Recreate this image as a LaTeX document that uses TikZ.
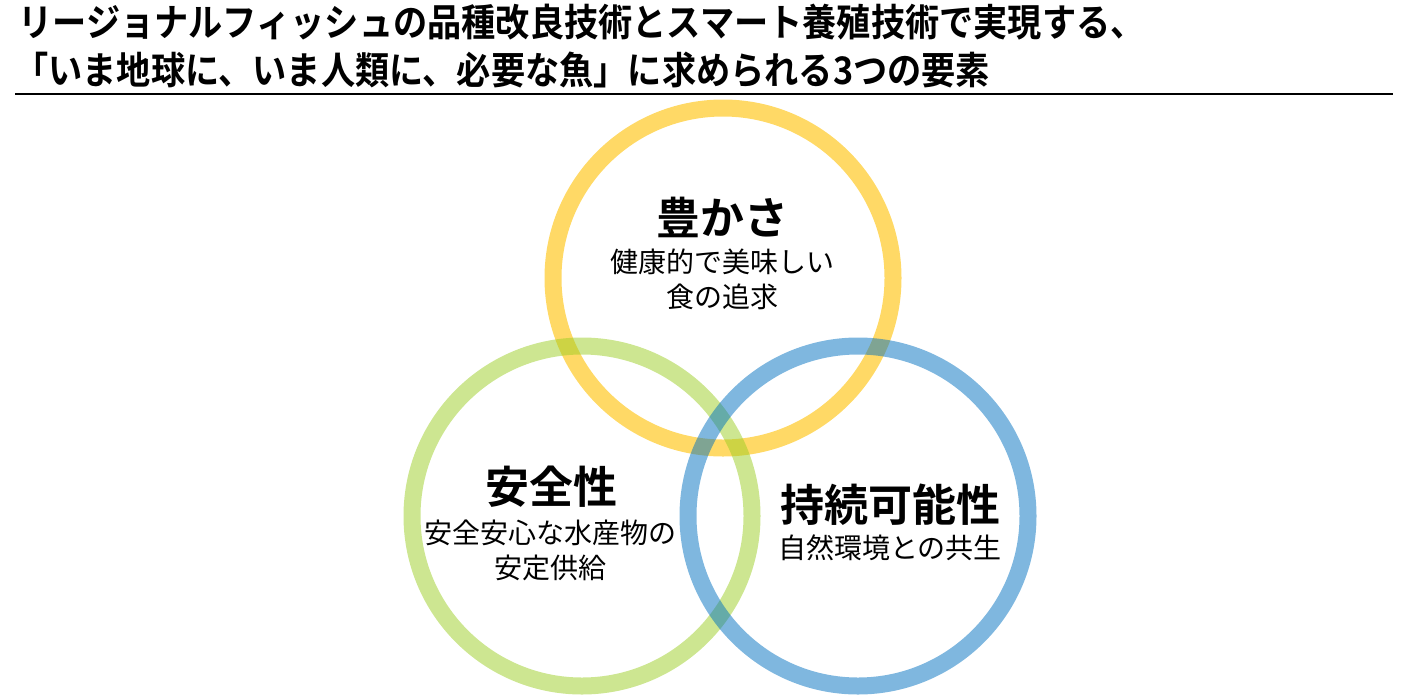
\documentclass[tikz,border=0pt]{standalone}
\usepackage{fontspec}
\newfontfamily\jpfont[BoldFont={Noto Sans CJK JP Bold}]{Noto Sans CJK JP}
\definecolor{ringyellow}{RGB}{255,192,0}
\definecolor{ringgreen}{RGB}{155,205,35}
\definecolor{ringblue}{RGB}{0,112,192}
\newcommand{\narrowtext}[1]{\scalebox{.9}[1]{#1}}

\begin{document}
\begin{tikzpicture}[
    x=0.5pt, y=-0.5pt,
    ring/.style={circle, draw, line width=8.5pt, minimum size=170pt, inner sep=0pt},
    heading/.style={font=\jpfont\bfseries\fontsize{19pt}{24pt}\selectfont, anchor=west, inner sep=0pt},
    keyword/.style={font=\jpfont\bfseries\fontsize{22pt}{26pt}\selectfont, inner sep=0pt},
    detail/.style={font=\jpfont\fontsize{14pt}{17.5pt}\selectfont, align=center, inner sep=0pt}
]
\useasboundingbox (0,0) rectangle (1407,697);

% Title and rule
\node[heading] (title1) at (18, 22) {\narrowtext{リージョナルフィッシュの品種改良技術とスマート養殖技術で実現する、}};
\node[heading] (title2) at (14, 70) {\narrowtext{「いま地球に、いま人類に、必要な魚」に求められる3つの要素}};
\coordinate (ruleL) at (15, 94);
\coordinate (ruleR) at (1393, 94);
\draw[line width=1pt] (ruleL) -- (ruleR);

% Rings first (drawn behind)
\node[ring, draw=ringyellow, draw opacity=.6] (yutaka) at (723, 278) {};
\node[ring, draw=ringgreen, draw opacity=.5] (anzen) at (582, 516) {};
\node[ring, draw=ringblue, draw opacity=.5] (jizoku) at (858, 516) {};

% Texts inside the rings
\node[keyword] (yutakaKey) at (722, 217) {豊かさ};
\node[detail] (yutakaText) at (722, 279) {健康的で美味しい\\食の追求};

\node[keyword] (anzenKey) at (551, 487) {安全性};
\node[detail] (anzenText) at (550, 550) {安全安心な水産物の\\安定供給};

\node[keyword] (jizokuKey) at (890, 505) {持続可能性};
\node[detail] (jizokuText) at (890, 548) {自然環境との共生};

\end{tikzpicture}
\end{document}
